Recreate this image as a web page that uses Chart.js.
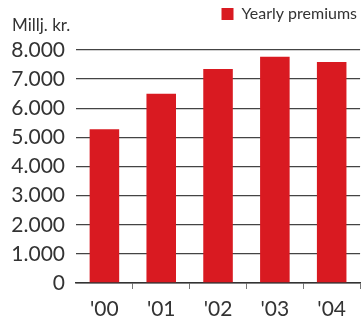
<!DOCTYPE html>
<html>
<head>
<meta charset="utf-8">
<script src="https://cdn.jsdelivr.net/npm/chart.js@4"></script>
<style>
  html, body { margin: 0; padding: 0; background: #fff; }
  #wrap { width: 363px; height: 318px; position: relative; }
</style>
</head>
<body>
<div id="wrap"><canvas id="premiums"></canvas></div>
<script>
//----- DATA -----//
const years = ["'00", "'01", "'02", "'03", "'04"];
const premiums = [5280, 6500, 7350, 7770, 7590];
const seriesName = 'Yearly premiums';
const unitLabel = 'Millj. kr.';

const RED = '#d91a21';
const TEXT = '#333333';
const FONT = 'Lato, "DejaVu Sans", sans-serif';

// thousands with a dot: 8000 -> 8.000
function fmt(v) {
    return String(v).replace(/\B(?=(\d{3})+(?!\d))/g, '.');
}

// draws the unit label top left
const unitPlugin = {
    id: 'unitLabel',
    afterDraw(chart) {
        const ctx = chart.ctx;
        ctx.save();
        ctx.font = '17px ' + FONT;
        ctx.fillStyle = TEXT;
        ctx.textAlign = 'left';
        ctx.textBaseline = 'alphabetic';
        ctx.fillText(unitLabel, 12, 31);
        ctx.restore();
    }
};

// extra room below the legend
const legendGap = {
    id: 'legendGap',
    beforeInit(chart) {
        const fit = chart.legend.fit;
        chart.legend.fit = function () {
            fit.bind(chart.legend)();
            this.height += 18;
        };
    }
};

//----- CONFIG -----//
const config = {
    type: 'bar',
    data: {
        labels: years,
        datasets: [{
            label: seriesName,
            data: premiums,
            backgroundColor: RED,
            borderWidth: 0,
            barPercentage: 0.52,
            categoryPercentage: 1
        }]
    },
    options: {
        responsive: true,
        maintainAspectRatio: false,
        animation: false,
        layout: { padding: 0 },
        plugins: {
            legend: {
                position: 'top',
                align: 'end',
                labels: {
                    boxWidth: 12,
                    boxHeight: 12,
                    color: TEXT,
                    font: { family: FONT, size: 16 },
                    padding: 6
                }
            },
            title: { display: false },
            tooltip: { enabled: false }
        },
        scales: {
            x: {
                offset: true,
                border: { display: true, color: '#333', width: 1.5 },
                grid: {
                    offset: true,
                    drawOnChartArea: false,
                    drawTicks: true,
                    tickLength: 6,
                    color: (c) => c.index === 0 ? 'rgba(0,0,0,0)' : '#777'
                },
                ticks: {
                    color: TEXT,
                    font: { family: FONT, size: 21, lineHeight: 0.34 },
                    padding: 17
                },
                afterFit: (scale) => { scale.height = 35; }
            },
            y: {
                min: 0,
                max: 8000,
                border: { display: false },
                grid: {
                    color: '#444',
                    lineWidth: 1.3,
                    drawTicks: false
                },
                ticks: {
                    stepSize: 1000,
                    autoSkip: false,
                    color: TEXT,
                    font: { family: FONT, size: 21, lineHeight: 1 },
                    padding: 11,
                    callback: (v) => fmt(v)
                },
                afterFit: (scale) => { scale.width = 76; }
            }
        }
    },
    plugins: [unitPlugin, legendGap]
};

//----- RENDER -----//
const chart = new Chart(document.getElementById('premiums'), config);
</script>
</body>
</html>
